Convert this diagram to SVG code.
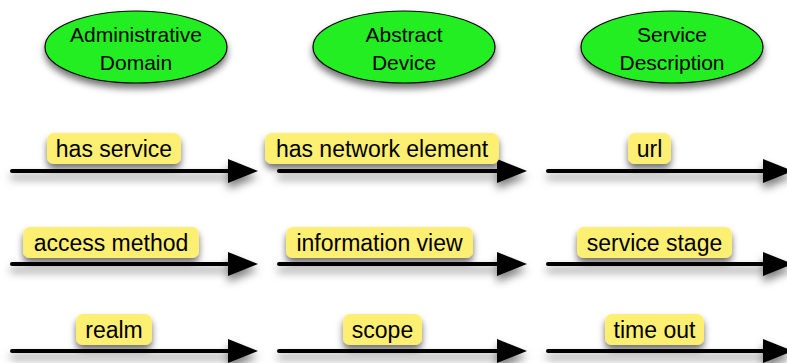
<svg xmlns="http://www.w3.org/2000/svg" width="787" height="363" viewBox="0 0 787 363">
<defs>
<filter id="sh" x="-20%" y="-30%" width="140%" height="180%">
<feDropShadow dx="0" dy="5" stdDeviation="3.5" flood-color="#000" flood-opacity="0.55"/>
</filter>
<filter id="shl" x="-10%" y="-200%" width="120%" height="600%">
<feDropShadow dx="0" dy="6" stdDeviation="4" flood-color="#000" flood-opacity="0.5"/>
</filter>
<marker id="ah" markerUnits="userSpaceOnUse" markerWidth="30" markerHeight="24" refX="2" refY="12" orient="auto" overflow="visible">
<path d="M0,0 L30,12 L0,24 Z" fill="#000"/>
</marker>
</defs>
<style>
.node ellipse{fill:#22ee22;stroke:#000;stroke-width:1.2;filter:url(#sh)}
.nt{font-family:"Liberation Sans",Arial,sans-serif;font-size:21px;fill:#000;text-anchor:middle}
.edge{stroke:#000;stroke-width:4;stroke-linecap:round;fill:none;marker-end:url(#ah)}
.lbl rect{fill:#fdef72;filter:url(#sh)}
.lt{font-family:"Liberation Sans",Arial,sans-serif;font-size:23px;fill:#000;text-anchor:middle}
</style>
<g id="node-admin" class="node">
<ellipse cx="136" cy="47" rx="91" ry="36"/>
<text class="nt" x="136" y="42">Administrative</text>
<text class="nt" x="136" y="70">Domain</text>
</g>
<g id="node-device" class="node">
<ellipse cx="404" cy="47" rx="91" ry="36"/>
<text class="nt" x="404" y="42">Abstract</text>
<text class="nt" x="404" y="70">Device</text>
</g>
<g id="node-service" class="node">
<ellipse cx="672" cy="47" rx="91" ry="36"/>
<text class="nt" x="672" y="42">Service</text>
<text class="nt" x="672" y="70">Description</text>
</g>
<g id="connectors" filter="url(#shl)">
<path class="edge" d="M12,171 H230"/>
<path class="edge" d="M279,171 H499"/>
<path class="edge" d="M548,171 H765"/>
<path class="edge" d="M12,264 H230"/>
<path class="edge" d="M279,264 H499"/>
<path class="edge" d="M548,264 H765"/>
<path class="edge" d="M12,351 H230"/>
<path class="edge" d="M279,351 H499"/>
<path class="edge" d="M548,351 H765"/>
</g>
<g id="labels">
<g class="lbl"><rect x="47" y="133" width="134" height="31" rx="7"/><text class="lt" x="114" y="157">has service</text></g>
<g class="lbl"><rect x="265" y="133" width="234" height="31" rx="7"/><text class="lt" x="382" y="157">has network element</text></g>
<g class="lbl"><rect x="628" y="133" width="43" height="31" rx="7"/><text class="lt" x="649.5" y="157">url</text></g>
<g class="lbl"><rect x="23" y="227" width="176" height="31" rx="7"/><text class="lt" x="111" y="251">access method</text></g>
<g class="lbl"><rect x="286" y="227" width="187" height="31" rx="7"/><text class="lt" x="379.5" y="251">information view</text></g>
<g class="lbl"><rect x="577" y="227" width="155" height="31" rx="7"/><text class="lt" x="654.5" y="251">service stage</text></g>
<g class="lbl"><rect x="76" y="314" width="76" height="31" rx="7"/><text class="lt" x="114" y="338">realm</text></g>
<g class="lbl"><rect x="343" y="314" width="79" height="31" rx="7"/><text class="lt" x="382.5" y="338">scope</text></g>
<g class="lbl"><rect x="605" y="314" width="99" height="31" rx="7"/><text class="lt" x="654.5" y="338">time out</text></g>
</g>
</svg>
